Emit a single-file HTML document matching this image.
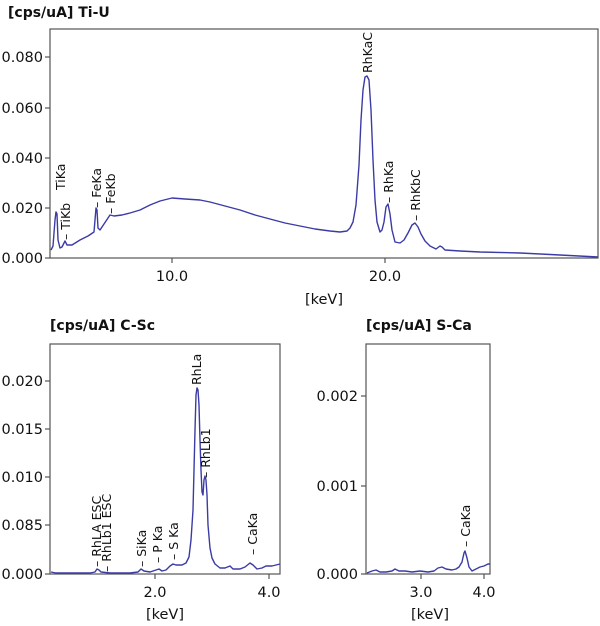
<!DOCTYPE html>
<html><head><meta charset="utf-8"><style>
body{margin:0;background:#fff}
svg{display:block;font-family:"DejaVu Sans","Liberation Sans",sans-serif}
.t{font-size:14.5px;fill:#111}
.h{font-size:14px;font-weight:bold;fill:#111}
.p{font-size:12.5px;fill:#111}
.s{fill:none;stroke:#3b3ba6;stroke-width:1.4;stroke-linejoin:round}
.ax{fill:none;stroke:#555;stroke-width:1.2}
</style></head><body>
<svg width="600" height="626" viewBox="0 0 600 626">
<text class="h" x="8" y="17">[cps/uA] Ti-U</text>
<rect class="ax" x="50" y="29" width="548" height="229"/>
<g stroke="#555" stroke-width="1.2">
<line x1="45" y1="57" x2="50" y2="57"/><line x1="45" y1="108" x2="50" y2="108"/><line x1="45" y1="158" x2="50" y2="158"/><line x1="45" y1="208" x2="50" y2="208"/><line x1="45" y1="258" x2="50" y2="258"/>
<line x1="172" y1="258" x2="172" y2="263"/><line x1="385" y1="258" x2="385" y2="263"/>
</g>
<g class="t" text-anchor="end">
<text x="43" y="62">0.080</text><text x="43" y="113">0.060</text><text x="43" y="163">0.040</text><text x="43" y="213">0.020</text><text x="43" y="263">0.000</text>
</g>
<g class="t" text-anchor="middle"><text x="172" y="281">10.0</text><text x="385" y="281">20.0</text><text x="324" y="304">[keV]</text></g>
<polyline class="s" points="51,250 53,246 55,220 56,212 57,214 58,240 60,248 62,247 65,241 67,245 72,245 80,240 88,236 94,232 95,220 96,208 97,210 98,228 100,230 104,224 110,215 114,216 122,215 130,213 140,210 150,205 160,201 172,198 185,199 200,200 210,202 225,206 240,210 255,215 270,219 285,223 300,226 315,229 330,231 340,232 347,231 350,228 353,222 356,205 359,165 361,120 363,90 365,77 367,76 369,80 371,110 373,160 375,200 377,222 380,232 382,230 384,222 386,207 388,204 390,214 392,230 395,242 400,243 404,240 408,233 412,225 415,223 418,227 421,234 425,241 430,246 436,249 440,246 442,247 445,250 460,251 480,252 520,253 560,255 598,257"/>
<g class="p">
<text transform="translate(65,190) rotate(-90)">TiKa</text>
<text transform="translate(70,240) rotate(-90)">– TiKb</text>
<text transform="translate(101,208) rotate(-90)">– FeKa</text>
<text transform="translate(115,214) rotate(-90)">– FeKb</text>
<text transform="translate(372,73) rotate(-90)">RhKaC</text>
<text transform="translate(393,203) rotate(-90)">– RhKa</text>
<text transform="translate(420,221) rotate(-90)">– RhKbC</text>
</g>

<text class="h" x="50" y="330">[cps/uA] C-Sc</text>
<rect class="ax" x="50" y="344" width="230" height="230"/>
<g stroke="#555" stroke-width="1.2">
<line x1="45" y1="381" x2="50" y2="381"/><line x1="45" y1="429" x2="50" y2="429"/><line x1="45" y1="477" x2="50" y2="477"/><line x1="45" y1="525" x2="50" y2="525"/><line x1="45" y1="574" x2="50" y2="574"/>
<line x1="155" y1="574" x2="155" y2="579"/><line x1="269" y1="574" x2="269" y2="579"/>
</g>
<g class="t" text-anchor="end">
<text x="43" y="386">0.020</text><text x="43" y="434">0.015</text><text x="43" y="482">0.010</text><text x="43" y="530">0.085</text><text x="43" y="579">0.000</text>
</g>
<g class="t" text-anchor="middle"><text x="155" y="597">2.0</text><text x="269" y="597">4.0</text><text x="165" y="619">[keV]</text></g>
<polyline class="s" points="51,572 56,573 70,573 90,573 95,572 97,569 99,570 101,572 110,573 130,573 138,572 141,569 144,571 150,572 156,570 159,569 162,571 166,570 170,566 173,564 176,565 182,565 186,563 189,557 191,540 193,510 194,470 195,430 196,395 197,388 198,390 199,405 200,440 201,470 202,492 203,495 204,480 205,476 206,480 207,495 208,525 210,548 212,558 215,564 220,568 225,568 230,566 233,569 240,569 245,567 250,563 253,565 257,569 262,568 266,566 272,566 280,564"/>
<g class="p">
<text transform="translate(101,567) rotate(-90)">– RhLA  ESC</text>
<text transform="translate(111,572) rotate(-90)">– RhLb1 ESC</text>
<text transform="translate(146,567) rotate(-90)">– SiKa</text>
<text transform="translate(162,563) rotate(-90)">– P Ka</text>
<text transform="translate(178,560) rotate(-90)">– S Ka</text>
<text transform="translate(201,385) rotate(-90)">RhLa</text>
<text transform="translate(210,478) rotate(-90)">– RhLb1</text>
<text transform="translate(257,555) rotate(-90)">– CaKa</text>
</g>

<text class="h" x="366" y="330">[cps/uA] S-Ca</text>
<rect class="ax" x="366" y="344" width="124" height="230"/>
<g stroke="#555" stroke-width="1.2">
<line x1="361" y1="396" x2="366" y2="396"/><line x1="361" y1="486" x2="366" y2="486"/><line x1="361" y1="574" x2="366" y2="574"/>
<line x1="421" y1="574" x2="421" y2="579"/><line x1="484" y1="574" x2="484" y2="579"/>
</g>
<g class="t" text-anchor="end">
<text x="358" y="401">0.002</text><text x="358" y="491">0.001</text><text x="358" y="579">0.000</text>
</g>
<g class="t" text-anchor="middle"><text x="421" y="597">3.0</text><text x="484" y="597">4.0</text><text x="430" y="619">[keV]</text></g>
<polyline class="s" points="367,573 372,571 376,570 380,572 386,572 392,571 395,569 399,571 405,571 412,572 420,571 428,572 434,571 438,568 442,567 446,569 452,570 456,569 459,567 462,562 464,553 465,551 467,558 469,567 472,571 476,569 480,567 484,566 488,564 490,564"/>
<text class="p" transform="translate(470,547) rotate(-90)">– CaKa</text>
</svg>
</body></html>
